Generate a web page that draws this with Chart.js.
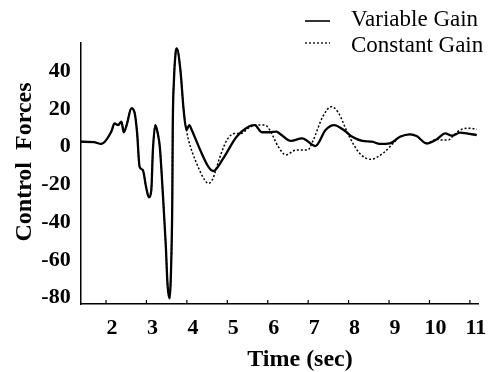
<!DOCTYPE html>
<html>
<head>
<meta charset="utf-8">
<script src="https://cdn.jsdelivr.net/npm/chart.js@4/dist/chart.umd.min.js"></script>
<style>
html,body{margin:0;padding:0;background:#fff;}
#wrap{width:494px;height:372px;}
</style>
</head>
<body>
<div id="wrap"><canvas id="c" width="494" height="372"></canvas></div>
<script>
// ---- data ----
const seriesNames = ["Variable Gain", "Constant Gain"];
const xTickValues = [2, 3, 4, 5, 6, 7, 8, 9, 10, 11];
const yTickValues = [-80, -60, -40, -20, 0, 20, 40];
const xAxisTitle = "Time (sec)";
const yAxisTitle = "Control  Forces";

const timeVariable = [1.37, 1.70, 1.88, 2.13, 2.21, 2.30, 2.38, 2.44, 2.51, 2.63, 2.71, 2.77, 2.83, 2.91, 2.99, 3.06, 3.12, 3.16, 3.22, 3.28, 3.33, 3.41, 3.48, 3.52, 3.57, 3.62, 3.64, 3.65, 3.68, 3.72, 3.75, 3.84, 3.92, 3.99, 4.06, 4.12, 4.33, 4.53, 4.65, 4.90, 5.23, 5.56, 5.68, 5.85, 6.05, 6.21, 6.29, 6.57, 6.85, 7.18, 7.43, 7.64, 7.88, 8.09, 8.34, 8.58, 8.77, 9.02, 9.27, 9.52, 9.68, 9.93, 10.18, 10.39, 10.55, 10.76, 10.92, 11.17];
const forceVariable = [2.6, 2.4, 1.4, 7.9, 12.3, 11.4, 13.2, 7.6, 11.4, 20.3, 17.6, 7, -10.6, -12.4, -21.2, -26.8, -23, -1.8, 11.4, 7, 0, -26.5, -53, -72.4, -80.3, -55, -26.5, 8.8, 35, 49.4, 52, 40.5, 19.4, 8.8, 11.4, 8.8, -1.8, -10.6, -12.9, -6.2, 5.2, 10.9, 11.4, 7.6, 7.6, 7.9, 7, 3, 4.4, 0.3, 8.8, 11.4, 8.8, 5.2, 3, 2.6, 1.4, 1.7, 5.2, 6.5, 5.6, 1.7, 3.9, 7, 5.8, 7.4, 7, 6.1];

const timeConstant = [1.37, 1.70, 1.88, 2.13, 2.21, 2.30, 2.38, 2.44, 2.51, 2.63, 2.71, 2.77, 2.83, 2.91, 2.99, 3.06, 3.12, 3.16, 3.22, 3.28, 3.33, 3.41, 3.48, 3.52, 3.57, 3.62, 3.64, 3.65, 3.68, 3.72, 3.75, 3.84, 3.92, 3.99, 4.04, 4.24, 4.44, 4.53, 4.62, 4.82, 4.99, 5.19, 5.35, 5.51, 5.72, 5.93, 6.05, 6.26, 6.45, 6.70, 6.99, 7.11, 7.36, 7.57, 7.73, 8.02, 8.27, 8.55, 8.85, 9.10, 9.27, 9.52, 9.68, 9.93, 10.18, 10.27, 10.47, 10.60, 10.80, 11.00, 11.17];
const forceConstant = [2.6, 2.4, 1.4, 7.9, 12.3, 11.4, 13.2, 7.6, 11.4, 20.3, 17.6, 7, -10.6, -12.4, -21.2, -26.8, -23, -1.8, 11.4, 7, 0, -26.5, -53, -72.4, -80.3, -55, -26.5, 8.8, 35, 49.4, 52, 40.5, 19.4, 8.8, 3.5, -8.8, -17.7, -19.4, -18, -5.3, 3.5, 7, 7, 9.7, 11.4, 11.4, 8.8, 0, -4.4, -1.8, -1.8, 2.6, 15.8, 21.1, 18.5, 5.2, -3.5, -6.7, -3.5, 1.7, 5.2, 6.5, 5.6, 1.7, 3.9, 3.5, 3.5, 6.1, 9.2, 9.7, 9.2];

const toPoints = (xs, ys) => xs.map((x, i) => ({x: x, y: ys[i]}));

const FONT = "'Liberation Serif', 'Times New Roman', serif";

// small upward tick marks on the x axis
const innerTicks = {
  id: 'innerTicks',
  afterDraw(chart) {
    const xs = chart.scales.x;
    const ctx = chart.ctx;
    const b = chart.chartArea.bottom;
    ctx.save();
    ctx.strokeStyle = '#000';
    ctx.lineWidth = 1.2;
    xs.ticks.forEach(t => {
      const px = xs.getPixelForValue(t.value);
      ctx.beginPath();
      ctx.moveTo(px, b);
      ctx.lineTo(px, b - 4);
      ctx.stroke();
    });
    ctx.restore();
  }
};

// axis titles placed as in the reference
const axisTitles = {
  id: 'axisTitles',
  afterDraw(chart) {
    const ctx = chart.ctx;
    ctx.save();
    ctx.fillStyle = '#000';
    ctx.font = "bold 24px " + FONT;
    ctx.textAlign = 'center';
    ctx.textBaseline = 'middle';
    ctx.fillText(xAxisTitle, 300, 360);
    ctx.translate(25, 162);
    ctx.rotate(-Math.PI / 2);
    ctx.fillText(yAxisTitle, 0, 0);
    ctx.restore();
  }
};

// legend at top right, laid out in two rows
const sideLegend = {
  id: 'sideLegend',
  afterDraw(chart) {
    const ctx = chart.ctx;
    ctx.save();
    ctx.font = "23px " + FONT;
    ctx.fillStyle = '#000';
    ctx.textBaseline = 'middle';
    ctx.textAlign = 'left';
    const rows = [20, 46];
    chart.data.datasets.forEach((ds, i) => {
      const y = rows[i];
      ctx.strokeStyle = '#000';
      ctx.lineWidth = i === 0 ? 1.6 : 1.3;
      ctx.setLineDash(ds.borderDash || []);
      ctx.beginPath();
      ctx.moveTo(305, y + (i === 0 ? 1 : -3));
      ctx.lineTo(330, y + (i === 0 ? 1 : -3));
      ctx.stroke();
      ctx.setLineDash([]);
      ctx.fillText(ds.label, 351, y);
    });
    ctx.restore();
  }
};

new Chart(document.getElementById('c'), {
  type: 'line',
  data: {
    datasets: [
      {
        label: seriesNames[0],
        data: toPoints(timeVariable, forceVariable),
        borderColor: '#000',
        borderWidth: 2.3,
        pointRadius: 0,
        cubicInterpolationMode: 'monotone',
        fill: false,
        order: 2
      },
      {
        label: seriesNames[1],
        data: toPoints(timeConstant, forceConstant),
        borderColor: '#000',
        borderWidth: 1.5,
        borderDash: [2, 2],
        pointRadius: 0,
        cubicInterpolationMode: 'monotone',
        fill: false,
        order: 1
      }
    ]
  },
  options: {
    responsive: false,
    animation: false,
    layout: { padding: { top: 42.7, right: 16, left: 0, bottom: 0 } },
    plugins: {
      legend: { display: false },
      tooltip: { enabled: false }
    },
    scales: {
      x: {
        type: 'linear',
        min: 1.374,
        max: 11.2,
        afterBuildTicks: (s) => { s.ticks = xTickValues.map(v => ({value: v})); },
        afterFit: (s) => { s.height = 372 - 304; },
        grid: { display: false, drawTicks: false },
        border: { display: true, color: '#000', width: 1.5 },
        ticks: {
          color: '#000',
          font: { family: FONT, size: 22, weight: 'bold' },
          padding: 11,
          labelOffset: 6,
          maxRotation: 0,
          autoSkip: false
        },
        title: { display: false, text: xAxisTitle }
      },
      y: {
        type: 'linear',
        min: -83.3,
        max: 55,
        afterBuildTicks: (s) => { s.ticks = yTickValues.map(v => ({value: v})); },
        afterFit: (s) => { s.width = 80.7; },
        grid: { display: false, drawTicks: false },
        border: { display: true, color: '#000', width: 1.5 },
        ticks: {
          color: '#000',
          font: { family: FONT, size: 22, weight: 'bold' },
          padding: 10,
          autoSkip: false
        },
        title: { display: false, text: yAxisTitle }
      }
    }
  },
  plugins: [innerTicks, axisTitles, sideLegend]
});
</script>
</body>
</html>
